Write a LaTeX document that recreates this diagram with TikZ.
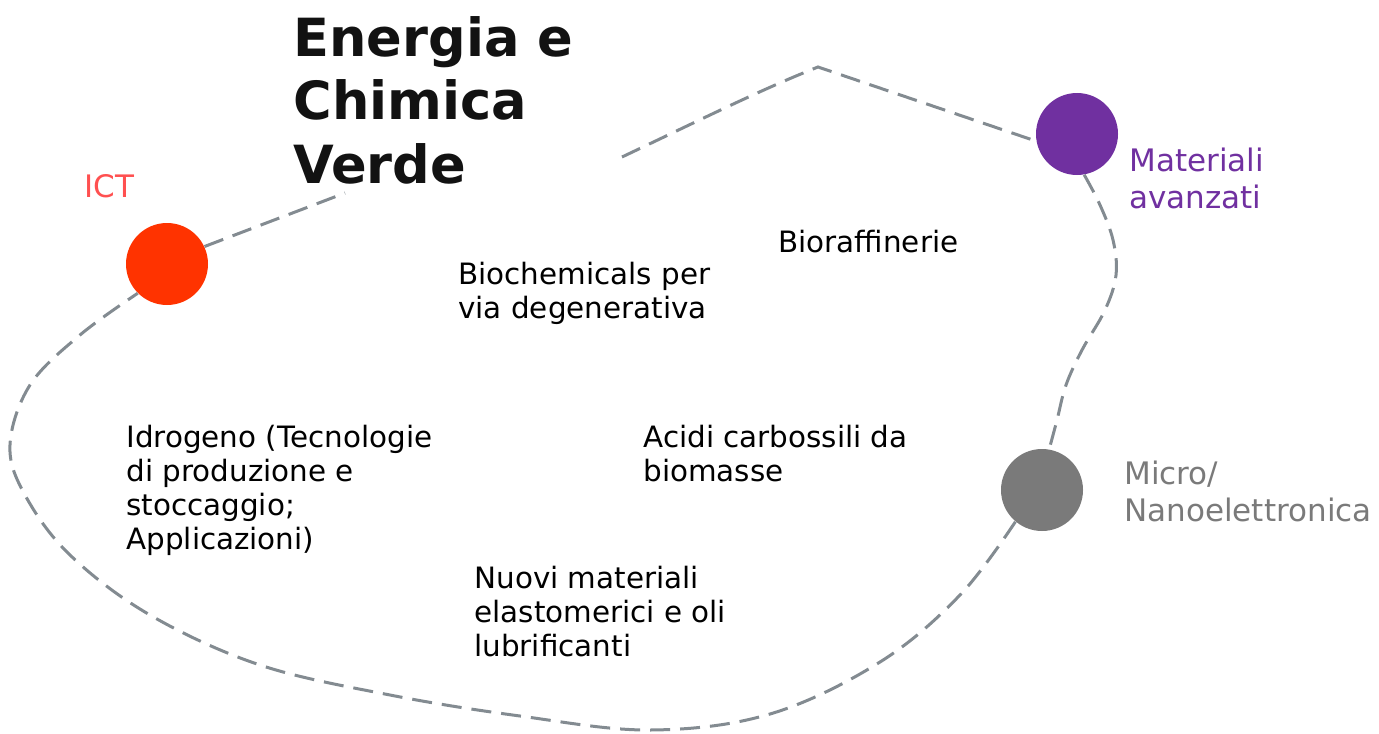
\documentclass[tikz,border=0pt]{standalone}
\usepackage{fontspec}
\setmainfont{DejaVu Sans}
\definecolor{ictred}{HTML}{FF3300}
\definecolor{ictlbl}{HTML}{FF5050}
\definecolor{purp}{HTML}{7030A0}
\definecolor{grayc}{HTML}{7A7A7A}
\definecolor{dashc}{HTML}{838B91}
\begin{document}
\begin{tikzpicture}[x=0.5pt,y=-0.5pt,
  dot/.style={circle,inner sep=0,minimum size=41pt,draw=none},
  body/.style={anchor=north west,inner sep=0,align=left,font=\fontsize{14.7pt}{17pt}\selectfont},
  lbl/.style={anchor=north west,inner sep=0,align=left,font=\fontsize{15.5pt}{18.5pt}\selectfont},
  border/.style={draw=dashc,line width=1.5pt,dash pattern=on 10pt off 5pt}]
\useasboundingbox (0,0) rectangle (1379,733);
% circles
\node[dot,fill=ictred] (ict) at (167,264) {};
\node[dot,fill=purp] (mat) at (1077,134) {};
\node[dot,fill=grayc] (mic) at (1042,490) {};
% dashed border
\coordinate (t1) at (345,193);
\coordinate (t2) at (622,157);
\coordinate (pk) at (818,67);
\draw[border] (ict.25) -- (t1);
\draw[border] (t2) .. controls (700,120) and (760,90) .. (pk) -- (mat.190);
\draw[border] plot[smooth,tension=0.6] coordinates {(mat.-80) (1100,205) (1113,240) (1116,275) (1105,310) (1082,350) (1066,385) (1057,420) (mic.80)};
\draw[border] plot[smooth,tension=0.6] coordinates {(mic.-130) (960,595) (880,662) (770,714) (650,730) (520,716) (390,695) (260,665) (150,615) (70,555) (25,495) (10,445) (30,385) (80,335) (ict.-135)};
% title
\node[anchor=north west,inner sep=0,align=left,text=black!93,font=\fontsize{26.3pt}{31.8pt}\selectfont\bfseries] (title) at (293,16) {Energia e\\Chimica\\Verde};
% labels
\node[lbl,text=ictlbl] (ictl) at (84,174) {ICT};
\node[lbl,text=purp] (matl) at (1129,148) {Materiali\\avanzati};
\node[lbl,text=grayc] (micl) at (1124,461) {Micro/\\Nanoelettronica};
% body
\node[body] (bio) at (458,262) {Biochemicals per\\via degenerativa};
\node[body] (bior) at (778,230) {Bioraffinerie};
\node[body] (idro) at (126,425) {Idrogeno (Tecnologie\\di produzione e\\stoccaggio;\\Applicazioni)};
\node[body] (acid) at (643,425) {Acidi carbossili da\\biomasse};
\node[body] (nuov) at (474,566) {Nuovi materiali\\elastomerici e oli\\lubrificanti};
\end{tikzpicture}
\end{document}
